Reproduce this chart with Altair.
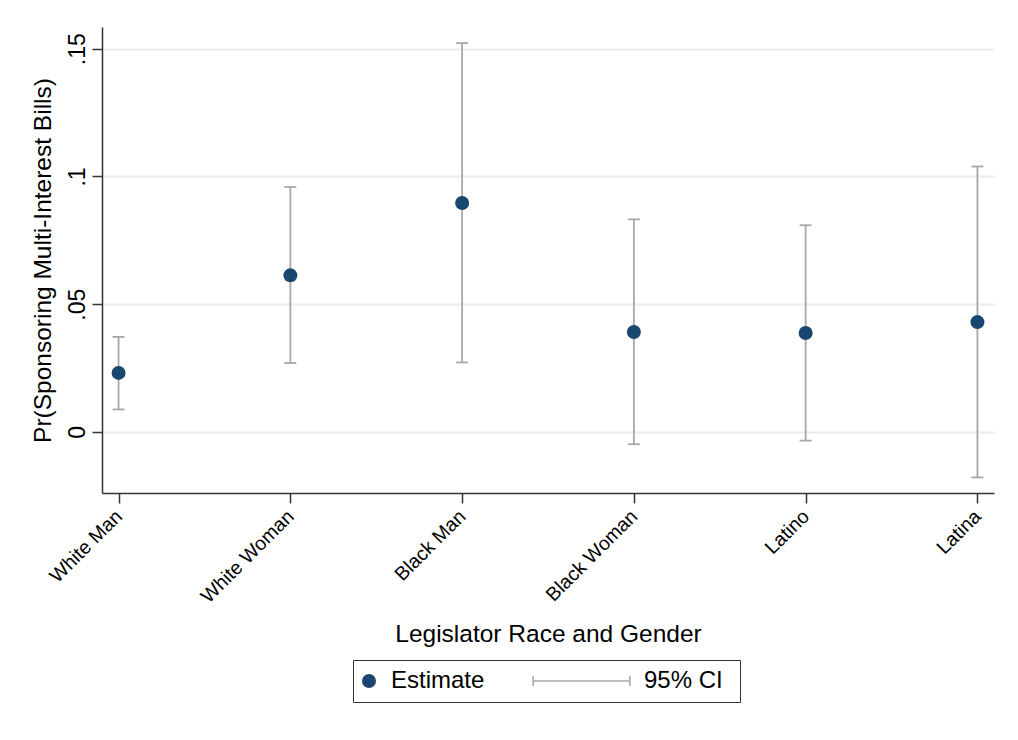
import altair as alt
import pandas as pd

# ---- data ----
groups = ["White Man", "White Woman", "Black Man", "Black Woman", "Latino", "Latina"]
estimate = [0.0231, 0.0613, 0.0896, 0.0391, 0.0387, 0.0430]
ci_low = [0.0088, 0.0270, 0.0272, -0.0048, -0.0034, -0.0178]
ci_high = [0.0372, 0.0959, 0.1522, 0.0832, 0.0809, 0.1039]

y_ticks = [0, 0.05, 0.1, 0.15]
y_tick_labels = ["0", ".05", ".1", ".15"]
legend_labels = ["Estimate", "95% CI"]

NAVY = "#1a476f"
GRAY = "#a8a8a8"
FONT = "Liberation Sans"

df = pd.DataFrame({
    "group": groups,
    "estimate": estimate,
    "lo": ci_low,
    "hi": ci_high,
    "type": [legend_labels[0]] * len(groups),
})

ylab_expr = "{}[indexof({}, datum.value)]".format(
    "[" + ",".join("'%s'" % s for s in y_tick_labels) + "]",
    "[" + ",".join(str(v) for v in y_ticks) + "]",
)

x_enc = alt.X(
    "group:N",
    sort=groups,
    scale=alt.Scale(type="point", padding=0.0965),
    axis=alt.Axis(
        title="Legislator Race and Gender",
        titleFontSize=24.5, titleFont=FONT, titleFontWeight="normal", titleColor="#000",
        titleY=148, titleBaseline="alphabetic",
        labelAngle=315, labelAlign="right", labelBaseline="middle",
        labelFontSize=19.5, labelFont=FONT, labelColor="#000", labelPadding=10,
        tickSize=10, tickColor="#333", tickWidth=1.5,
        domainColor="#333", domainWidth=1.5, grid=False,
    ),
)

y_scale = alt.Scale(domain=[-0.0239, 0.1585], nice=False, zero=False)

y_axis = alt.Axis(
    title="Pr(Sponsoring Multi-Interest Bills)",
    titleFontSize=24.5, titleFont=FONT, titleFontWeight="normal", titleColor="#000",
    titleAngle=270, titleX=-52, titleBaseline="alphabetic",
    values=y_ticks, labelExpr=ylab_expr,
    labelAngle=270, labelAlign="center", labelBaseline="alphabetic",
    labelFontSize=23, labelFont=FONT, labelColor="#000", labelPadding=8,
    tickSize=10, tickColor="#333", tickWidth=1.5,
    domainColor="#333", domainWidth=1.5,
    grid=True, gridColor="#e5eded", gridWidth=1.8,
)

base = alt.Chart(df).encode(x=x_enc)

rules = base.mark_rule(color=GRAY, strokeWidth=1.8).encode(
    y=alt.Y("lo:Q", scale=y_scale, axis=y_axis),
    y2="hi:Q",
)
cap_lo = base.mark_tick(color=GRAY, size=12, thickness=1.8, opacity=1).encode(
    y=alt.Y("lo:Q", scale=y_scale)
)
cap_hi = base.mark_tick(color=GRAY, size=12, thickness=1.8, opacity=1).encode(
    y=alt.Y("hi:Q", scale=y_scale)
)

ci_path = ("M-12.8,-0.11H1.23V0.11H-12.8Z "
           "M-12.8,-0.71H-12.58V0.71H-12.8Z "
           "M1.01,-0.71H1.23V0.71H1.01Z")

legend = alt.Legend(
    title="\u00a0", titleOrient="right", titlePadding=8, titleFontSize=24, titleFont=FONT,
    orient="none", legendX=251, legendY=633,
    direction="horizontal", columns=2,
    labelFontSize=24, labelFont=FONT, labelColor="#000",
    symbolOffset=-5, labelOffset=10, columnPadding=47,
    symbolSize=196, symbolStrokeWidth=0, symbolOpacity=1,
    padding=9, strokeColor="#333", fillColor="white",
)

points = base.mark_point(filled=True, opacity=1, size=196).encode(
    y=alt.Y("estimate:Q", scale=y_scale),
    color=alt.Color("type:N", scale=alt.Scale(domain=legend_labels, range=[NAVY, GRAY]), legend=legend),
    shape=alt.Shape("type:N", scale=alt.Scale(domain=legend_labels, range=["circle", ci_path]), legend=legend),
)

chart = (
    alt.layer(rules, cap_lo, cap_hi, points)
    .properties(
        width=892, height=466,
        autosize=alt.AutoSizeParams(type="none"),
        padding={"left": 94, "top": 19, "right": 8, "bottom": 215},
        background="white",
    )
    .configure_view(stroke=None)
)

chart.save("out.html", embed_options={"renderer": "svg", "actions": False})
